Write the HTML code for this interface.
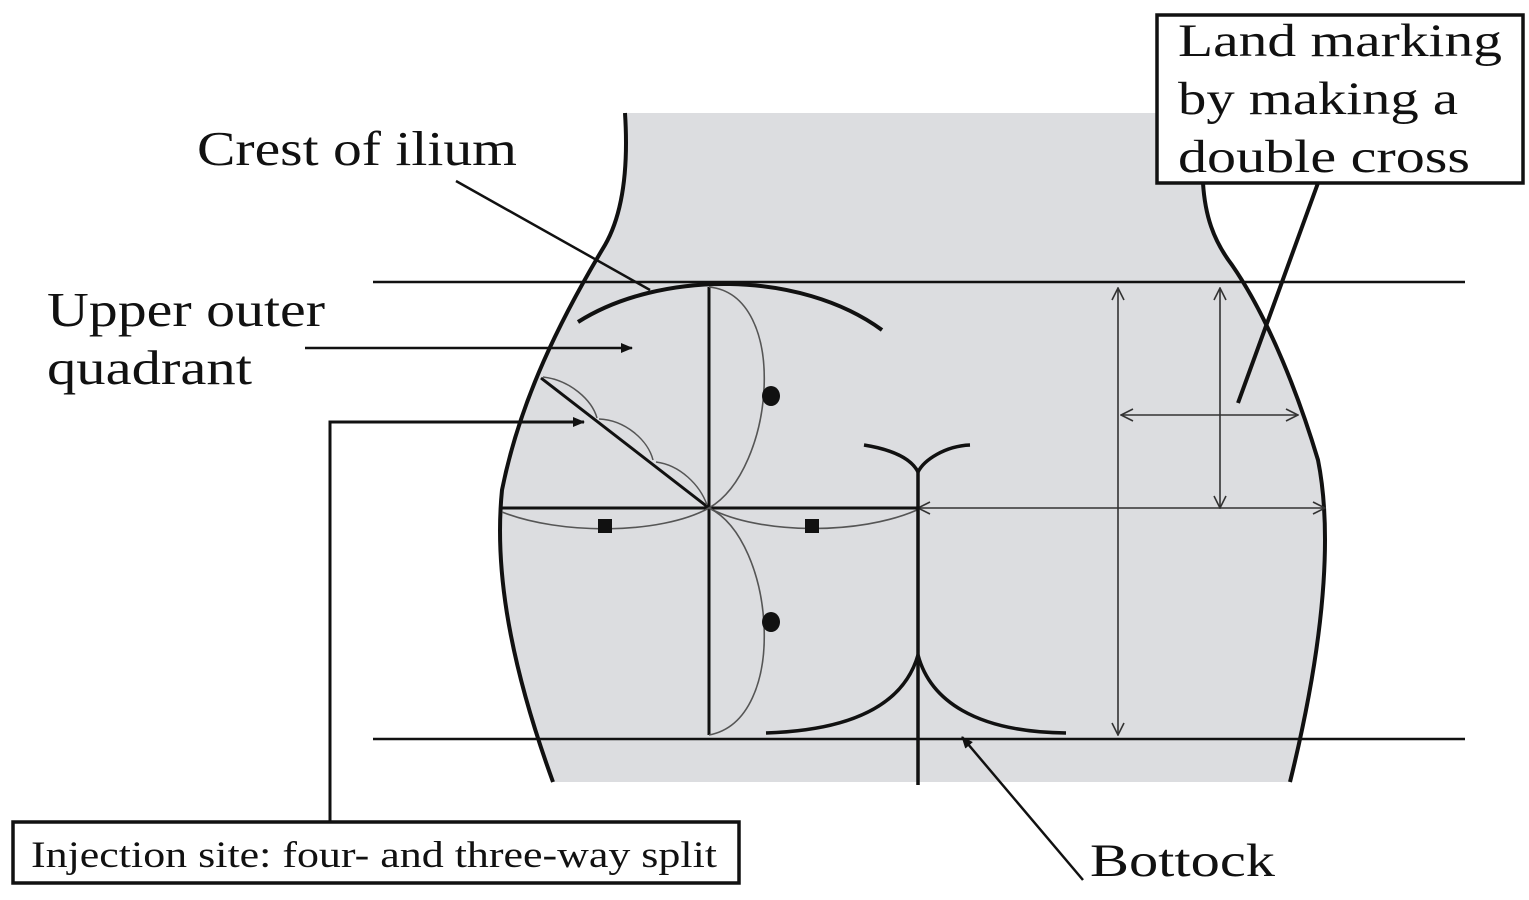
<!DOCTYPE html>
<html><head><style>
html,body{margin:0;padding:0;background:#fff;}
svg{display:block;}
text{font-family:"Liberation Serif",serif;fill:#111;}
</style></head><body>
<svg width="1529" height="900" viewBox="0 0 1529 900" xmlns="http://www.w3.org/2000/svg">
<defs>
<marker id="ah" markerWidth="12" markerHeight="10" refX="11" refY="5" orient="auto" markerUnits="userSpaceOnUse">
<path d="M0,0 L12,5 L0,10 Z" fill="#111"/></marker>
<marker id="oa" markerWidth="14" markerHeight="14" refX="13" refY="7" orient="auto-start-reverse" markerUnits="userSpaceOnUse">
<path d="M1,1 L13,7 L1,13" fill="none" stroke="#333" stroke-width="1.6"/></marker>
</defs>
<!-- body fill -->
<path d="M625,113 L1203,113 L1203,183 C1205,215 1213,240 1232,265 C1270,320 1300,400 1318,460 C1330,520 1330,620 1290,782 L553,782 C505,650 495,560 502,490 C520,400 560,320 605,245 C625,210 628,160 625,113 Z" fill="#dcdde0"/>
<!-- outline left -->
<path d="M625,113 C628,160 625,210 605,245 C560,320 520,400 502,490 C495,560 505,650 553,782" fill="none" stroke="#111" stroke-width="4"/>
<!-- outline right -->
<path d="M1203,183 C1205,215 1213,240 1232,265 C1270,320 1300,400 1318,460 C1330,520 1330,620 1290,782" fill="none" stroke="#111" stroke-width="4"/>
<line x1="373" y1="282" x2="1465" y2="282" stroke="#111" stroke-width="2.5"/>
<line x1="373" y1="739" x2="1465" y2="739" stroke="#111" stroke-width="2.5"/>
<path d="M578,322 C660,270 800,270 882,330" fill="none" stroke="#111" stroke-width="4"/>
<line x1="709" y1="287" x2="709" y2="735" stroke="#111" stroke-width="3"/>
<line x1="500" y1="508" x2="918" y2="508" stroke="#111" stroke-width="3"/>
<line x1="918" y1="508" x2="1325" y2="508" stroke="#333" stroke-width="1.6" marker-end="url(#oa)" marker-start="url(#oa)"/>
<line x1="541" y1="378" x2="709" y2="508" stroke="#111" stroke-width="3"/>
<path d="M543,377 C570,380 592,400 597,418 M599,419 C625,420 648,440 653,460 M656,462 C680,465 700,485 707,505" fill="none" stroke="#555" stroke-width="1.5"/>
<path d="M709,287 C790,295 775,470 709,508 C775,540 790,720 709,735" fill="none" stroke="#555" stroke-width="1.6"/>
<path d="M502,512 C560,535 660,535 709,508 C760,535 860,535 917,510" fill="none" stroke="#555" stroke-width="1.6"/>
<ellipse cx="771" cy="396" rx="9" ry="10" fill="#111"/>
<ellipse cx="771" cy="622" rx="9" ry="10" fill="#111"/>
<rect x="598" y="519" width="14" height="14" fill="#111"/>
<rect x="805" y="519" width="14" height="14" fill="#111"/>
<line x1="918" y1="470" x2="918" y2="785" stroke="#111" stroke-width="3.5"/>
<path d="M864,445 C895,450 912,460 918,472 C924,460 945,446 970,445" fill="none" stroke="#111" stroke-width="3.5"/>
<path d="M766,733 C860,730 905,700 918,655 C930,700 975,732 1066,733" fill="none" stroke="#111" stroke-width="3.5"/>
<line x1="1118" y1="288" x2="1118" y2="735" stroke="#333" stroke-width="1.6" marker-end="url(#oa)" marker-start="url(#oa)"/>
<line x1="1220" y1="288" x2="1220" y2="508" stroke="#333" stroke-width="1.6" marker-end="url(#oa)" marker-start="url(#oa)"/>
<line x1="1121" y1="415" x2="1298" y2="415" stroke="#333" stroke-width="1.6" marker-end="url(#oa)" marker-start="url(#oa)"/>
<line x1="456" y1="181" x2="650" y2="290" stroke="#111" stroke-width="2.5"/>
<line x1="305" y1="348" x2="632" y2="348" stroke="#111" stroke-width="2.5" marker-end="url(#ah)"/>
<polyline points="330,822 330,422 584,422" fill="none" stroke="#111" stroke-width="3" marker-end="url(#ah)"/>
<line x1="1318" y1="183" x2="1238" y2="403" stroke="#111" stroke-width="4"/>
<line x1="1083" y1="880" x2="962" y2="737" stroke="#111" stroke-width="2.5" marker-end="url(#ah)"/>
<rect x="1157" y="15" width="366" height="168" fill="#fff" stroke="#111" stroke-width="3.5"/>
<text x="1178" y="56" font-size="47" textLength="324" lengthAdjust="spacingAndGlyphs">Land marking</text>
<text x="1178" y="114" font-size="47" textLength="280" lengthAdjust="spacingAndGlyphs">by making a</text>
<text x="1178" y="172" font-size="47" textLength="292" lengthAdjust="spacingAndGlyphs">double cross</text>
<rect x="13" y="822" width="726" height="61" fill="#fff" stroke="#111" stroke-width="3.5"/>
<text x="31" y="867" font-size="37" textLength="686" lengthAdjust="spacingAndGlyphs">Injection site: four- and three-way split</text>
<text x="197" y="165" font-size="49" textLength="320" lengthAdjust="spacingAndGlyphs">Crest of ilium</text>
<text x="47" y="326" font-size="49" textLength="278" lengthAdjust="spacingAndGlyphs">Upper outer</text>
<text x="47" y="384" font-size="49" textLength="205" lengthAdjust="spacingAndGlyphs">quadrant</text>
<text x="1090" y="876" font-size="47" textLength="185" lengthAdjust="spacingAndGlyphs">Bottock</text>
</svg>
</body></html>
